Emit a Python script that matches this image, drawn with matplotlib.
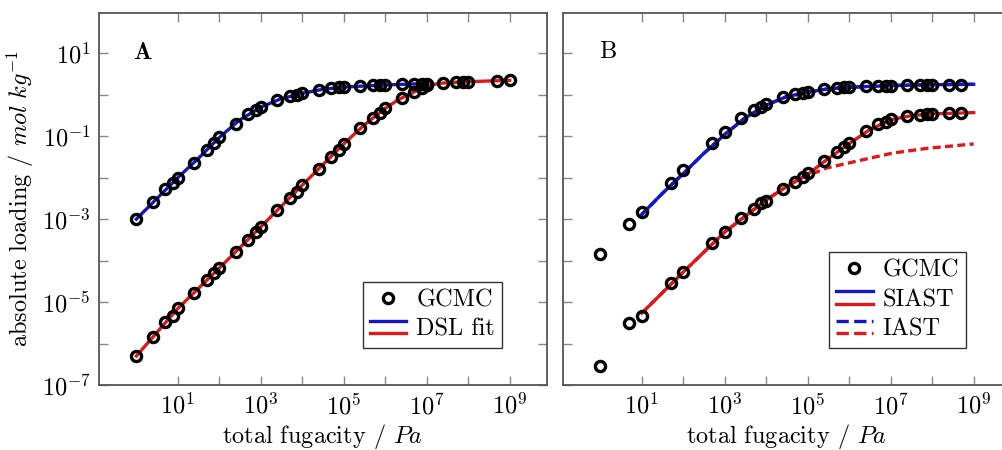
import matplotlib
matplotlib.use("Agg")
import matplotlib.pyplot as plt
from matplotlib.legend_handler import HandlerBase
from matplotlib.lines import Line2D

plt.rcParams['font.family'] = 'serif'
plt.rcParams['font.serif'] = ['cmr10', 'DejaVu Serif']
plt.rcParams['mathtext.fontset'] = 'cm'
plt.rcParams['axes.formatter.use_mathtext'] = True

BLUE = '#1616c8'
RED = '#e01818'
FS = 17.5

# ---- panel A: GCMC points and DSL fits ----
a_p1 = [1, 2.5, 5, 7.5, 10, 25, 50, 75, 100, 250, 500, 750, 1e3, 2.5e3, 5e3, 7.5e3,
        1e4, 2.5e4, 5e4, 7.5e4, 1e5, 2.5e5, 5e5, 7.5e5, 1e6, 2.5e6, 5e6, 7.5e6, 1e7]
a_n1 = [1.0e-3, 2.6e-3, 5.2e-3, 7.4e-3, 1.0e-2, 2.3e-2, 4.6e-2, 6.8e-2, 9.3e-2, 0.195,
        0.34, 0.43, 0.50, 0.74, 0.91, 1.0, 1.10, 1.32, 1.45, 1.51, 1.55, 1.62, 1.70,
        1.70, 1.74, 1.78, 1.82, 1.82, 1.86]
a_p2 = [1, 2.5, 5, 7.5, 10, 25, 50, 75, 100, 250, 500, 750, 1e3, 2.5e3, 5e3, 7.5e3,
        1e4, 2.5e4, 5e4, 7.5e4, 1e5, 2.5e5, 5e5, 7.5e5, 1e6, 2.5e6, 5e6, 7.5e6, 1e7,
        2.5e7, 5e7, 7.5e7, 1e8, 5e8, 1e9]
a_n2 = [5.0e-7, 1.45e-6, 3.3e-6, 4.6e-6, 7.0e-6, 1.66e-5, 3.4e-5, 5.0e-5, 6.6e-5, 1.6e-4,
        3.2e-4, 4.9e-4, 6.5e-4, 1.66e-3, 3.2e-3, 4.5e-3, 6.6e-3, 1.6e-2, 3.2e-2, 4.6e-2,
        6.6e-2, 0.155, 0.27, 0.355, 0.47, 0.83, 1.15, 1.45, 1.70, 1.90, 2.0, 2.04, 2.05,
        2.19, 2.24]
a_fit_p1 = [1, 3, 10, 30, 100, 300, 1e3, 3e3, 1e4, 3e4, 1e5, 1e6, 1e7]
a_fit_n1 = [1.0e-3, 3.0e-3, 1.0e-2, 2.8e-2, 9.3e-2, 0.24, 0.50, 0.79, 1.08, 1.34, 1.53, 1.72, 1.86]
a_fit_p2 = [1, 10, 100, 1e3, 1e4, 1e5, 3e5, 1e6, 2e6, 4e6, 1e7, 2e7, 5e7, 1e8, 1e9]
a_fit_n2 = [5.0e-7, 7.0e-6, 6.6e-5, 6.5e-4, 6.6e-3, 6.5e-2, 0.18, 0.47, 0.74, 1.05, 1.62,
            1.88, 2.0, 2.06, 2.22]

# ---- panel B: GCMC points, SIAST and IAST ----
b_p = [1, 5, 10, 50, 100, 500, 1e3, 2.5e3, 5e3, 7.5e3, 1e4, 2.5e4, 5e4, 7.5e4, 1e5,
       2.5e5, 5e5, 7.5e5, 1e6, 2.5e6, 5e6, 7.5e6, 1e7, 2.5e7, 5e7, 7.5e7, 1e8, 2.5e8, 5e8]
b_n1 = [1.45e-4, 7.6e-4, 1.5e-3, 7.4e-3, 1.5e-2, 6.8e-2, 0.126, 0.27, 0.43, 0.50, 0.59,
        0.87, 1.02, 1.10, 1.15, 1.35, 1.45, 1.50, 1.55, 1.58, 1.62, 1.65, 1.66, 1.70,
        1.70, 1.72, 1.73, 1.74, 1.74]
b_n2 = [2.9e-7, 3.1e-6, 4.6e-6, 2.9e-5, 5.2e-5, 2.6e-4, 4.9e-4, 1.05e-3, 1.8e-3, 2.45e-3,
        2.75e-3, 5.2e-3, 7.9e-3, 1.02e-2, 1.26e-2, 2.5e-2, 4.1e-2, 5.5e-2, 6.8e-2, 0.132,
        0.195, 0.22, 0.257, 0.30, 0.33, 0.34, 0.345, 0.355, 0.355]
siast_p1 = [10, 30, 100, 300, 1e3, 3e3, 1e4, 3e4, 1e5, 3e5, 1e6, 1e7, 1e8, 1e9]
siast_n1 = [1.3e-3, 4.0e-3, 1.26e-2, 3.7e-2, 0.11, 0.27, 0.56, 0.89, 1.15, 1.38, 1.51,
            1.66, 1.74, 1.78]
siast_p2 = [10, 100, 1e3, 1e4, 3e4, 1e5, 3e5, 1e6, 3e6, 1e7, 3e7, 1e8, 1e9]
siast_n2 = [5.4e-6, 5.3e-5, 4.9e-4, 2.9e-3, 6.0e-3, 1.2e-2, 2.8e-2, 6.6e-2, 0.14, 0.25,
            0.31, 0.345, 0.37]
iast_p2 = [10, 100, 1e3, 1e4, 3e4, 1e5, 1.6e5, 2.8e5, 1.8e6, 1.1e7, 7.6e7, 1e9]
iast_n2 = [5.4e-6, 5.3e-5, 4.9e-4, 2.9e-3, 6.0e-3, 1.2e-2, 1.35e-2, 1.7e-2, 2.6e-2,
           3.9e-2, 5.1e-2, 6.5e-2]

x_ticks = [10 ** k for k in range(1, 10)]
x_labels = [r'$10^{%d}$' % k if k % 2 else '' for k in range(1, 10)]
y_ticks = [10.0 ** k for k in range(-7, 2)]
y_labels = [r'$10^{%d}$' % k if k % 2 else '' for k in range(-7, 2)]


class Pair:
    def __init__(self, *lines):
        self.lines = lines


class StackedLines(HandlerBase):
    # two short lines on top of each other, like the pgfplots legend
    def create_artists(self, legend, orig_handle, xdescent, ydescent, width, height,
                       fontsize, trans):
        arts = []
        for h, d in zip(orig_handle.lines, [0.26 * fontsize, -0.26 * fontsize]):
            y = (height - ydescent) / 2 + d
            ln = Line2D([-xdescent, -xdescent + width], [y, y], color=h.get_color(),
                        lw=h.get_linewidth(), ls=h.get_linestyle())
            ln.set_transform(trans)
            arts.append(ln)
        return arts


def style_axes(ax, ylabels):
    ax.set_xscale('log')
    ax.set_yscale('log')
    ax.set_xlim(10 ** -0.9, 10 ** 9.9)
    ax.set_ylim(1e-7, 10 ** 1.97)
    ax.set_xticks(x_ticks)
    ax.set_xticklabels(x_labels)
    ax.set_yticks(y_ticks)
    ax.set_yticklabels(y_labels if ylabels else [])
    ax.minorticks_off()
    ax.tick_params(which='both', direction='in', top=True, right=True, length=6.5,
                   width=1.0, color='#888888', labelsize=FS, pad=6)
    for s in ax.spines.values():
        s.set_color('#555555')
        s.set_linewidth(1.3)
    ax.set_xlabel(r'total fugacity / $Pa$', fontsize=FS, labelpad=2)


fig = plt.figure(figsize=(10.02, 4.5), dpi=100)
axA = fig.add_axes([99 / 1002, 65 / 450, 448 / 1002, 372 / 450])
axB = fig.add_axes([563 / 1002, 65 / 450, 448 / 1002, 372 / 450])

lw = 2.4
mk = dict(ls='none', marker='o', ms=7.3, mew=2.4, mfc='none', mec='black', zorder=5)
leg_kw = dict(loc='lower right', bbox_to_anchor=(0.90, 0.10), borderaxespad=0,
              fontsize=FS, fancybox=False, edgecolor='#333333', framealpha=1,
              handlelength=1.5, handletextpad=0.4, labelspacing=0.3, borderpad=0.3,
              handler_map={Pair: StackedLines()})

# panel A
lb, = axA.plot(a_fit_p1, a_fit_n1, color=BLUE, lw=lw)
lr, = axA.plot(a_fit_p2, a_fit_n2, color=RED, lw=lw)
pts, = axA.plot(a_p1, a_n1, **mk)
axA.plot(a_p2, a_n2, **mk)
style_axes(axA, True)
axA.set_ylabel(r'absolute loading / $mol\ kg^{-1}$', fontsize=FS, labelpad=4)
axA.text(0.098, 0.892, r'$\mathbf{A}$', transform=axA.transAxes, fontsize=FS,
         ha='center', va='center')
axA.legend([pts, Pair(lb, lr)], ['GCMC', 'DSL fit'], **leg_kw)

# panel B
dash = (0, (2.4, 1.3))
ib, = axB.plot(siast_p1, siast_n1, color=BLUE, lw=lw, ls=dash)
ir, = axB.plot(iast_p2, iast_n2, color=RED, lw=lw, ls=dash)
sb, = axB.plot(siast_p1, siast_n1, color=BLUE, lw=lw)
sr, = axB.plot(siast_p2, siast_n2, color=RED, lw=lw)
ptsB, = axB.plot(b_p, b_n1, **mk)
axB.plot(b_p, b_n2, **mk)
style_axes(axB, False)
axB.text(0.10, 0.895, 'B', transform=axB.transAxes, fontsize=FS, ha='center', va='center')
axB.legend([ptsB, Pair(sb, sr), Pair(ib, ir)], ['GCMC', 'SIAST', 'IAST'], **leg_kw)

fig.savefig('out.png', dpi=100)
